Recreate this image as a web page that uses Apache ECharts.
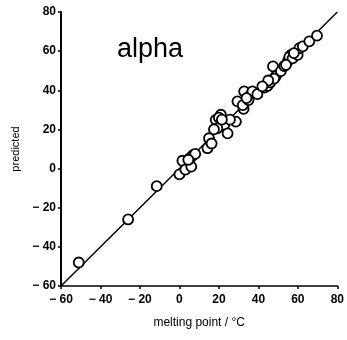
<!DOCTYPE html>
<html>
<head>
<meta charset="utf-8">
<script src="https://cdn.jsdelivr.net/npm/echarts@6/dist/echarts.min.js"></script>
<style>html,body{margin:0;padding:0;background:#fff}#c{width:347px;height:340px}</style>
</head>
<body>
<div id="c"></div>
<script>
var measured = [-51, -26, -11.5, 0, 1.5, 3, 6, 5, 6, 7, 8, 4.5,
  14.2, 15, 16.3, 18.4, 21, 22.7, 24.4, 28.6, 19.2, 25.6, 20, 21.5, 17.5,
  29.4, 32.8, 32.5, 32.1, 36.1, 35, 37, 34,
  39.5, 43, 44.7, 46, 47.4, 48.9, 48, 45, 42,
  51.4, 53.1, 55, 56.5, 55.7, 57.3, 59.9, 60.8, 62.5, 65.8, 69.7, 54, 58];
var predicted = [-48, -26, -9, -3, 4, -0.5, 1, 5, 6, 7, 7.5, 4.5,
  10.4, 15.5, 12.8, 24.9, 27.5, 22.3, 18, 24, 20.6, 25, 26, 25, 20,
  34.3, 39.4, 30.5, 32.4, 37.8, 35, 39.4, 36,
  38, 41.4, 42.3, 44, 52.2, 47.3, 46, 45, 42,
  49.8, 52.4, 55, 58.1, 57, 56.3, 58.1, 61.5, 62.4, 65, 67.9, 53, 59];
var fitLine = [[-60, -60], [80, 80]];
var xTicks = [-60, -40, -20, 0, 20, 40, 60, 80];
var yTicks = [-60, -40, -20, 0, 20, 40, 60, 80];

var pts = measured.map(function (m, i) { return [m, predicted[i]]; });
function fmt(v) { return v < 0 ? '\u2212 ' + Math.abs(v) : String(v); }
var chart = echarts.init(document.getElementById('c'));
chart.setOption({
  animation: false,
  backgroundColor: '#fff',
  grid: { left: 61, right: 7, top: 12, bottom: 54 },
  xAxis: {
    type: 'value', min: xTicks[0], max: xTicks[xTicks.length - 1], interval: 20,
    splitLine: { show: false },
    axisLine: { onZero: false, lineStyle: { color: '#000', width: 1.5 } },
    axisTick: { length: 3, lineStyle: { color: '#000', width: 1.5 } },
    axisLabel: { color: '#000', fontFamily: 'Liberation Sans', fontSize: 12, fontWeight: 'bold', margin: 8, formatter: fmt },
    name: 'melting point / \u00B0C', nameLocation: 'middle', nameGap: 31,
    nameTextStyle: { color: '#000', fontFamily: 'Liberation Sans', fontSize: 12 }
  },
  yAxis: {
    type: 'value', min: yTicks[0], max: yTicks[yTicks.length - 1], interval: 20,
    splitLine: { show: false },
    axisLine: { onZero: false, lineStyle: { color: '#000', width: 2 } },
    axisTick: { length: 3, lineStyle: { color: '#000', width: 1.5 } },
    axisLabel: { color: '#000', fontFamily: 'Liberation Sans', fontSize: 12, fontWeight: 'bold', margin: 5, formatter: fmt },
    name: 'predicted', nameLocation: 'middle', nameGap: 39,
    nameTextStyle: { color: '#000', fontFamily: 'Liberation Sans', fontSize: 11 }
  },
  graphic: [{
    type: 'text', left: 117, top: 36,
    style: { text: 'alpha', font: '27px "Liberation Sans"', fill: '#000' }
  }],
  series: [{
    type: 'line', data: fitLine, symbol: 'none',
    lineStyle: { color: '#000', width: 1.5 }, z: 1
  }, {
    type: 'scatter', data: pts, symbol: 'circle', symbolSize: 10,
    itemStyle: { color: '#fff', borderColor: '#000', borderWidth: 1.8, opacity: 1 }, z: 2
  }]
});
</script>
</body>
</html>
